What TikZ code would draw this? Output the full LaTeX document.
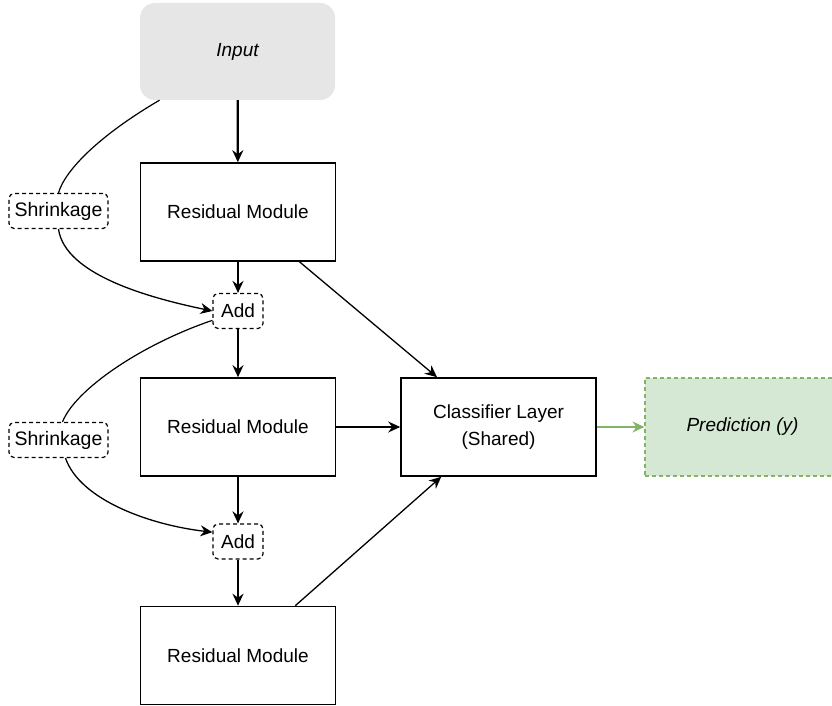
\documentclass[tikz,border=0pt]{standalone}
\usepackage{fontspec}
\setmainfont{Liberation Sans}
\usetikzlibrary{arrows.meta,calc}
\definecolor{inputgray}{HTML}{E6E6E6}
\definecolor{predfill}{HTML}{D5E8D4}
\definecolor{predline}{HTML}{82B366}
\begin{document}
\begin{tikzpicture}[x=1pt,y=1pt,
  font=\fontsize{19}{27}\selectfont,
  module/.style={draw, line width=1.6pt, minimum width=195pt, minimum height=98pt, inner sep=0pt, align=center},
  op/.style={draw, line width=1.2pt, dash pattern=on 4pt off 3pt, rounded corners=5pt, minimum height=35pt, inner sep=2pt},
  tip/.style={-{Stealth[length=12pt,width=11pt,inset=4pt]}},
  main/.style={tip, line width=2.2pt},
  side/.style={tip, line width=1.3pt},
  skip/.style={line width=1.2pt}]
\useasboundingbox (0,0) rectangle (832,-706);

% blocks
\node[fill=inputgray, rounded corners=15pt, minimum width=195pt, minimum height=97pt] (input) at (237.5,-51.5) {\itshape Input};
\node[module] (rm1) at (238,-212) {Residual Module};
\node[op, minimum width=50pt] (add1) at (238,-311) {Add};
\node[module] (rm2) at (238,-427) {Residual Module};
\node[op, minimum width=50pt] (add2) at (238,-541.5) {Add};
\node[module] (rm3) at (238,-655.5) {Residual Module};
\node[op, minimum width=99pt, font=\fontsize{19.5}{23}\selectfont] (shr1) at (58.5,-211) {Shrinkage};
\node[op, minimum width=99pt, font=\fontsize{19.5}{23}\selectfont] (shr2) at (58.5,-440) {Shrinkage};
\node[module] (cls) at (498.5,-427) {Classifier Layer\\(Shared)};
\node[draw=predline, fill=predfill, dash pattern=on 4pt off 3pt, line width=1.2pt,
      minimum width=195pt, minimum height=98pt] (pred) at (742.5,-427) {\itshape Prediction (y)};

% main path
\draw[main] (input) -- (rm1);
\draw[main] (rm1) -- (add1);
\draw[main] (add1) -- (rm2);
\draw[main] (rm2) -- (add2);
\draw[main] (add2) -- (rm3);

% shared classifier
\draw[side] (rm1.-39) -- (cls.141);
\draw[side] (rm2) -- (cls);
\draw[side] (rm3.41) -- (cls.221);
\draw[side, draw=predline] (cls) -- (pred);

% shrinkage skips
\draw[skip] (input.212) .. controls (100,-135) and (65,-170) .. (shr1.north);
\draw[side] (shr1.south) .. controls (65,-275) and (150,-298) .. (add1.west);
\draw[skip] (add1.200) .. controls (140,-345) and (75,-390) .. ($(shr2.north)+(4,0)$);
\draw[side] ($(shr2.south)+(7,0)$) .. controls (80,-500) and (150,-525) .. (add2.160);
\end{tikzpicture}
\end{document}
